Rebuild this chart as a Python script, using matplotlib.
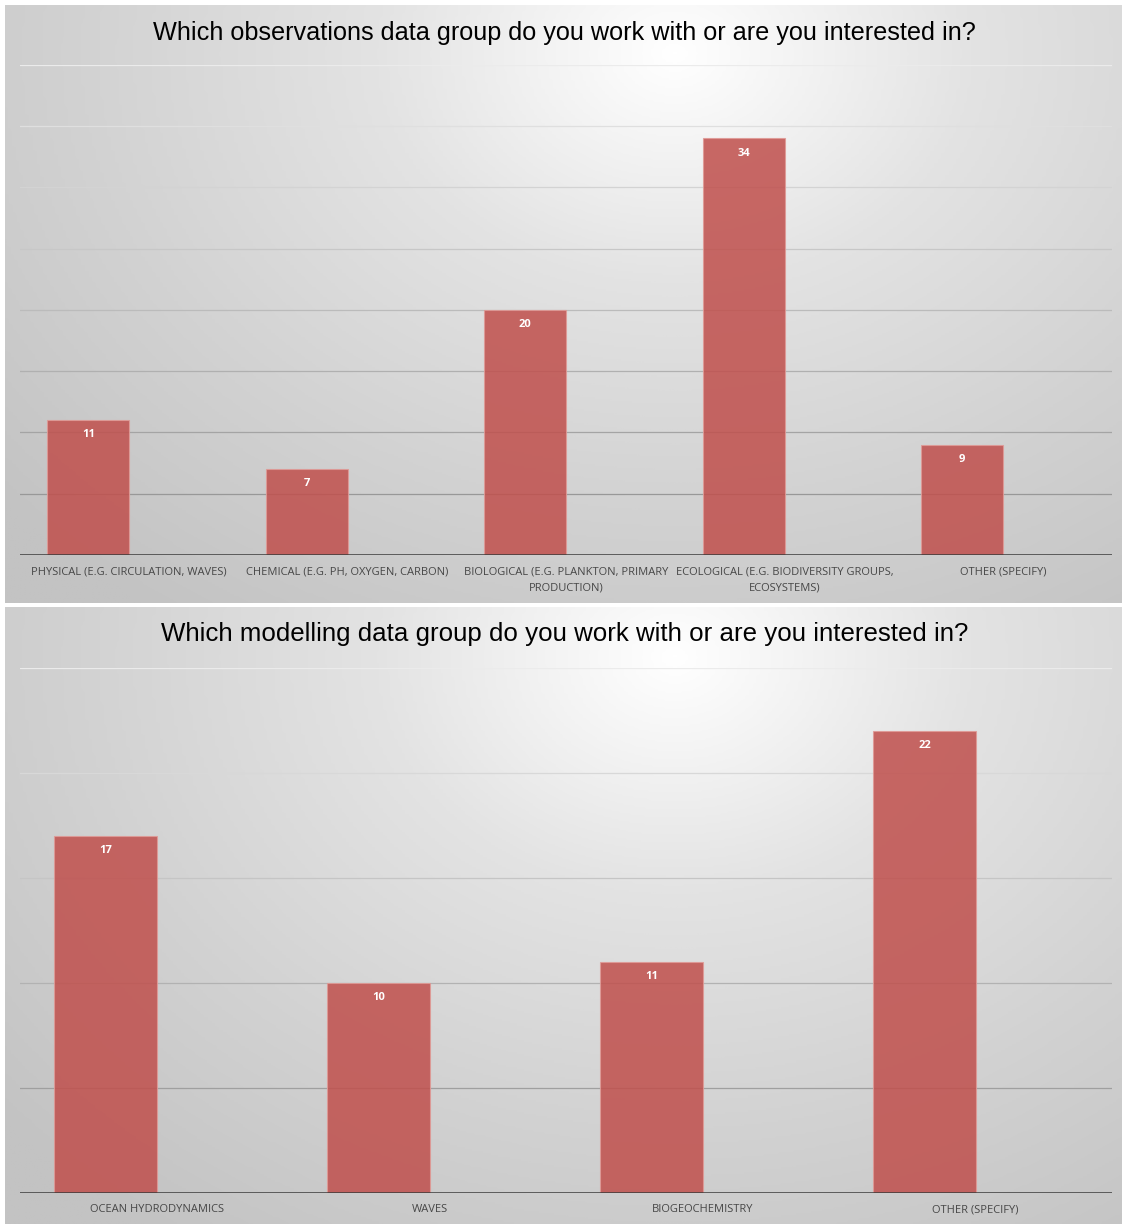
import numpy as np
import matplotlib.pyplot as plt
from matplotlib.colors import LinearSegmentedColormap

# data
obs_labels = ["PHYSICAL (E.G. CIRCULATION, WAVES)",
              "CHEMICAL (E.G. PH, OXYGEN, CARBON)",
              "BIOLOGICAL (E.G. PLANKTON, PRIMARY\nPRODUCTION)",
              "ECOLOGICAL (E.G. BIODIVERSITY GROUPS,\nECOSYSTEMS)",
              "OTHER (SPECIFY)"]
obs_values = [11, 7, 20, 34, 9]

mod_labels = ["OCEAN HYDRODYNAMICS", "WAVES", "BIOGEOCHEMISTRY", "OTHER (SPECIFY)"]
mod_values = [17, 10, 11, 22]

titles = ["Which observations data group do you work with or are you interested in?",
          "Which modelling data group do you work with or are you interested in?"]

W, H = 1122, 1224
fig = plt.figure(figsize=(W / 100, H / 100), dpi=100)
fig.patch.set_facecolor('white')

bg_cmap = LinearSegmentedColormap.from_list('bg', ['#ffffff', '#e3e3e3', '#d2d2d2', '#c3c3c3'])


def px(x0, y0, x1, y1):
    # pixel box (top-left origin) -> figure fraction rect
    return [x0 / W, 1 - y1 / H, (x1 - x0) / W, (y1 - y0) / H]


def background(rect):
    bg = fig.add_axes(rect, zorder=0)
    xx, yy = np.meshgrid(np.linspace(0, 1, 300), np.linspace(0, 1, 300))
    r = np.sqrt(((xx - 0.6) / 0.8) ** 2 + ((yy - 0.08) / 1.15) ** 2)
    bg.imshow(np.clip(r, 0, 1), cmap=bg_cmap, vmin=0, vmax=1, aspect='auto',
              extent=[0, 1, 1, 0], interpolation='bilinear')
    bg.set_axis_off()


def bar_chart(rect, labels, values, ymax, title, title_y, title_size):
    ax = fig.add_axes(rect, zorder=2)
    ax.set_facecolor('none')
    x = np.arange(len(values))
    ax.set_xlim(-0.5, len(values) - 0.5)
    ax.set_ylim(0, ymax)
    for v in np.arange(5, ymax + 1, 5):
        t = v / ymax
        g = 0.55 + 0.37 * t
        ax.axhline(v, color=(g, g, g), lw=0.9, zorder=1)
    # bars sit left of the category centre (empty second series slot)
    xb = x - 0.187
    ax.bar(xb, values, width=0.375, color='#c0504d', alpha=0.86,
           edgecolor='#e09a96', linewidth=0.8, zorder=2)
    for xi, v in zip(xb, values):
        ax.annotate(str(v), (xi, v), xytext=(0, -6.5), textcoords='offset points',
                    ha='center', va='top', color='white', fontsize=8,
                    fontweight='bold', family='Open Sans', zorder=3)
    ax.axhline(0, color='#3a3a3a', lw=1.8, zorder=3)
    ax.set_xticks(x)
    ax.set_xticklabels(labels, fontsize=8, color='#474747', family='Open Sans',
                       linespacing=1.65)
    ax.tick_params(axis='x', length=0, pad=8)
    ax.set_yticks([])
    for s in ax.spines.values():
        s.set_visible(False)
    fig.text(0.503, title_y, title, ha='center', va='center', fontsize=title_size,
             family='Liberation Sans', color='black', zorder=5)
    return ax


background(px(5, 5, 1122, 603))
background(px(5, 607, 1122, 1224))

bar_chart(px(20, 65, 1112, 555), obs_labels, obs_values, 40, titles[0], 1 - 33 / H, 18.2)
bar_chart(px(20, 668, 1112, 1193), mod_labels, mod_values, 25, titles[1], 1 - 634 / H, 18.6)

fig.savefig('out.png', dpi=100)
